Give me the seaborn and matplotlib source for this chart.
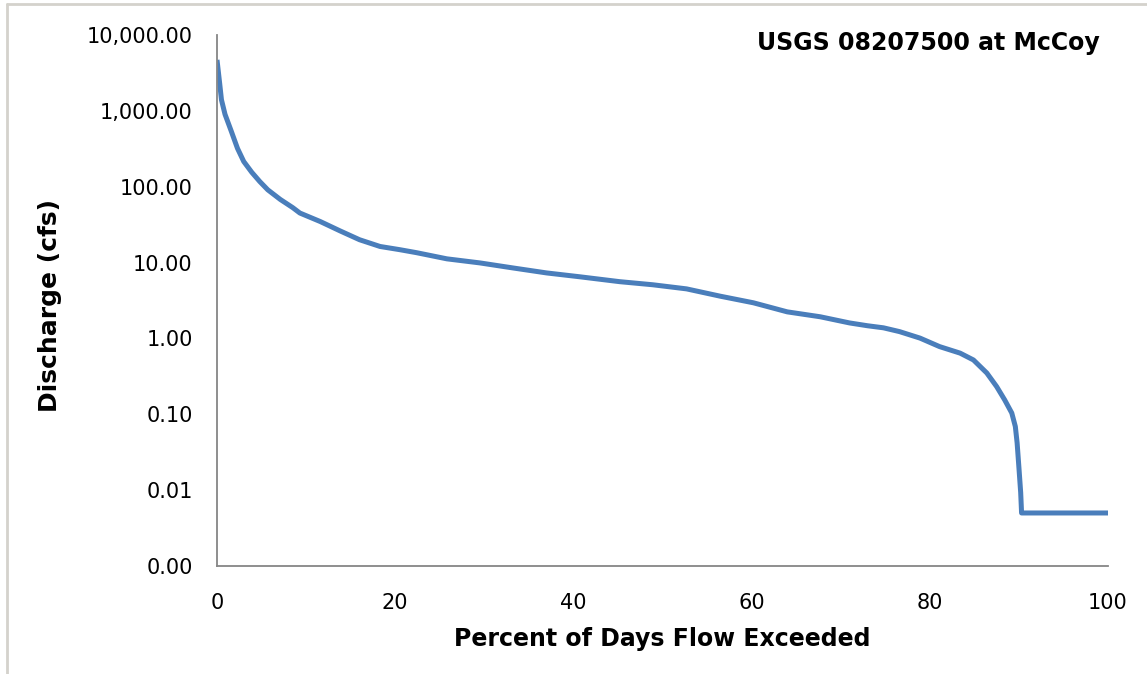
import matplotlib
matplotlib.use("Agg")
import matplotlib.pyplot as plt
from matplotlib.ticker import FuncFormatter, NullLocator, FixedLocator
from matplotlib.lines import Line2D
import pandas as pd
import seaborn as sns

# Flow duration curve, USGS 08207500 at McCoy
percent_exceeded = [0, 0.3, 0.5, 0.9, 1.6, 2.3, 3.0, 3.9, 4.8, 5.7, 7.1, 8.5,
                    9.3, 11.6, 13.8, 16.0, 18.3, 20.5, 22.4, 25.8, 29.5,
                    33.2, 37.0, 40.7, 45.2, 48.9, 52.7, 56.5, 60.2, 64.0, 67.7,
                    71.0, 73.0, 74.8, 76.6, 78.9, 81.1, 83.4, 84.9, 86.4, 87.5,
                    88.4, 89.2, 89.6, 89.8, 90.0, 90.2, 90.3, 100]
discharge_cfs = [4700, 2300, 1400, 900, 540, 320, 215, 155, 117, 91, 68, 53,
                 45, 34.7, 26.2, 20, 16.3, 14.8, 13.5, 11.2, 9.9,
                 8.5, 7.3, 6.5, 5.6, 5.1, 4.5, 3.6, 2.95, 2.24, 1.93,
                 1.6, 1.47, 1.38, 1.23, 1.01, 0.78, 0.64, 0.52, 0.35, 0.232,
                 0.155, 0.104, 0.069, 0.042, 0.02, 0.0093, 0.005, 0.005]

y_ticks = [0.001, 0.01, 0.1, 1, 10, 100, 1000, 10000]
x_ticks = [0, 20, 40, 60, 80, 100]

title_text = "USGS 08207500 at McCoy"
x_label = "Percent of Days Flow Exceeded"
y_label = "Discharge (cfs)"

sns.set_style("white")
plt.rcParams["font.family"] = ["DejaVu Sans"]
plt.rcParams["text.color"] = "black"
plt.rcParams["axes.labelcolor"] = "black"

df = pd.DataFrame({"pct": percent_exceeded, "q": discharge_cfs})

fig = plt.figure(figsize=(11.47, 6.74), dpi=100)
ax = fig.add_axes([217 / 1147, 1 - 566 / 674, (1108 - 217) / 1147, (566 - 35) / 674])

sns.lineplot(data=df, x="pct", y="q", ax=ax, color="#4a7ebb", linewidth=3.6,
             estimator=None, sort=False, solid_joinstyle="round",
             solid_capstyle="butt")

ax.set_yscale("log")
ax.set_ylim(0.001, 10000)
ax.set_xlim(0, 100)
ax.yaxis.set_major_locator(FixedLocator(y_ticks))
ax.yaxis.set_minor_locator(NullLocator())
ax.xaxis.set_major_locator(FixedLocator(x_ticks))
ax.yaxis.set_major_formatter(FuncFormatter(lambda v, p: f"{v:,.2f}"))
ax.xaxis.set_major_formatter(FuncFormatter(lambda v, p: f"{v:g}"))

spine_color = "#868686"
for side in ("top", "right"):
    ax.spines[side].set_visible(False)
for side in ("left", "bottom"):
    ax.spines[side].set_color(spine_color)
    ax.spines[side].set_linewidth(1.3)

ax.tick_params(axis="both", which="major", direction="out", length=6.5,
               width=1.3, color=spine_color, labelsize=15, labelcolor="black")
ax.tick_params(axis="y", pad=11)
ax.tick_params(axis="x", pad=13)

ax.set_xlabel(x_label, fontsize=17, fontweight="bold", labelpad=10)
ax.set_ylabel(y_label, fontsize=18, fontweight="bold", labelpad=8)
ax.yaxis.set_label_coords(-0.174, 0.49)
ax.grid(False)

fig.text(1100 / 1147, 1 - 43 / 674, title_text, ha="right", va="center",
         fontsize=17, fontweight="bold")

# Chart-area frame along the left and top edges
frame_kw = dict(color="#d4d2cc", linewidth=2.0, transform=fig.transFigure)
fig.add_artist(Line2D([7 / 1147, 7 / 1147], [0, 1 - 4 / 674], **frame_kw))
fig.add_artist(Line2D([7 / 1147, 1], [1 - 4 / 674, 1 - 4 / 674], **frame_kw))

fig.savefig("out.png", dpi=100, facecolor="white")
